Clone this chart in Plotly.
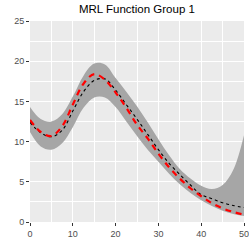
import plotly.graph_objects as go

x_vals = [0, 2.5, 5, 7.5, 10, 12.5, 15, 17.5, 20, 22.5, 25, 27.5, 30, 32.5, 35, 37.5, 40, 42.5, 45, 47.5, 50]
estimate = [12.7, 11.2, 10.7, 11.9, 14.6, 17.2, 18.4, 17.7, 16.1, 14.2, 12.1, 10.4, 8.5, 6.8, 5.4, 4.2, 3.2, 2.35, 1.7, 1.25, 0.9]
true_mrl = [12.4, 11.1, 10.6, 11.4, 13.8, 16.2, 17.6, 17.8, 16.4, 14.6, 12.8, 10.9, 9.0, 7.3, 5.9, 4.6, 3.4, 2.9, 2.4, 2.05, 1.8]
upper = [14.3, 12.8, 12.5, 13.4, 15.6, 18.2, 19.7, 19.6, 17.9, 16.2, 14.4, 12.4, 10.3, 8.3, 6.6, 5.4, 4.5, 4.1, 4.6, 6.5, 10.8]
lower = [11.2, 9.4, 9.0, 9.8, 11.8, 14.2, 15.5, 15.5, 14.3, 12.5, 10.7, 9.0, 7.5, 6.0, 4.7, 3.6, 2.7, 2.0, 1.4, 1.0, 0.75]

fig = go.Figure()
fig.add_trace(go.Scatter(x=x_vals, y=lower, mode="lines", line=dict(width=0, color="#A6A6A6", shape="spline"),
                         showlegend=False, hoverinfo="skip"))
fig.add_trace(go.Scatter(x=x_vals, y=upper, mode="lines", line=dict(width=0, color="#A6A6A6", shape="spline"),
                         fill="tonexty", fillcolor="#A6A6A6", showlegend=False, hoverinfo="skip"))
fig.add_trace(go.Scatter(x=x_vals, y=true_mrl, mode="lines", line=dict(color="black", width=1.1, dash="dot", shape="spline"),
                         showlegend=False))
fig.add_trace(go.Scatter(x=x_vals, y=estimate, mode="lines", line=dict(color="red", width=2.2, dash="6px,5px", shape="spline"),
                         showlegend=False))

axis_common = dict(
    showgrid=True, gridcolor="white", gridwidth=1,
    zeroline=False, showline=False, automargin=False,
    ticks="outside", ticklen=3, tickcolor="#333333", tickwidth=1,
    ticklabeloverflow="allow",
    tickfont=dict(family="Liberation Sans, Arial", size=9, color="#4D4D4D"),
)

fig.update_layout(
    width=249, height=249,
    margin=dict(l=29.5, r=5, t=21, b=27),
    paper_bgcolor="white", plot_bgcolor="#EBEBEB",
    title=dict(text="MRL Function Group 1", x=0.55, xanchor="center", y=0.962, yanchor="middle",
               font=dict(family="Liberation Sans, Arial", size=11.5, color="black")),
    xaxis=dict(range=[0, 50], tickvals=[0, 10, 20, 30, 40, 50],
               minor=dict(tickvals=[5, 15, 25, 35, 45], showgrid=True, gridcolor="white", gridwidth=0.5, ticks=""),
               **axis_common),
    yaxis=dict(range=[0, 25], tickvals=[0, 5, 10, 15, 20, 25],
               minor=dict(tickvals=[2.5, 7.5, 12.5, 17.5, 22.5], showgrid=True, gridcolor="white", gridwidth=0.5, ticks=""),
               **axis_common),
)

fig.write_html("out.html", config={"displayModeBar": False},
               post_script="document.body.style.margin='0';document.body.style.overflow='hidden';")
